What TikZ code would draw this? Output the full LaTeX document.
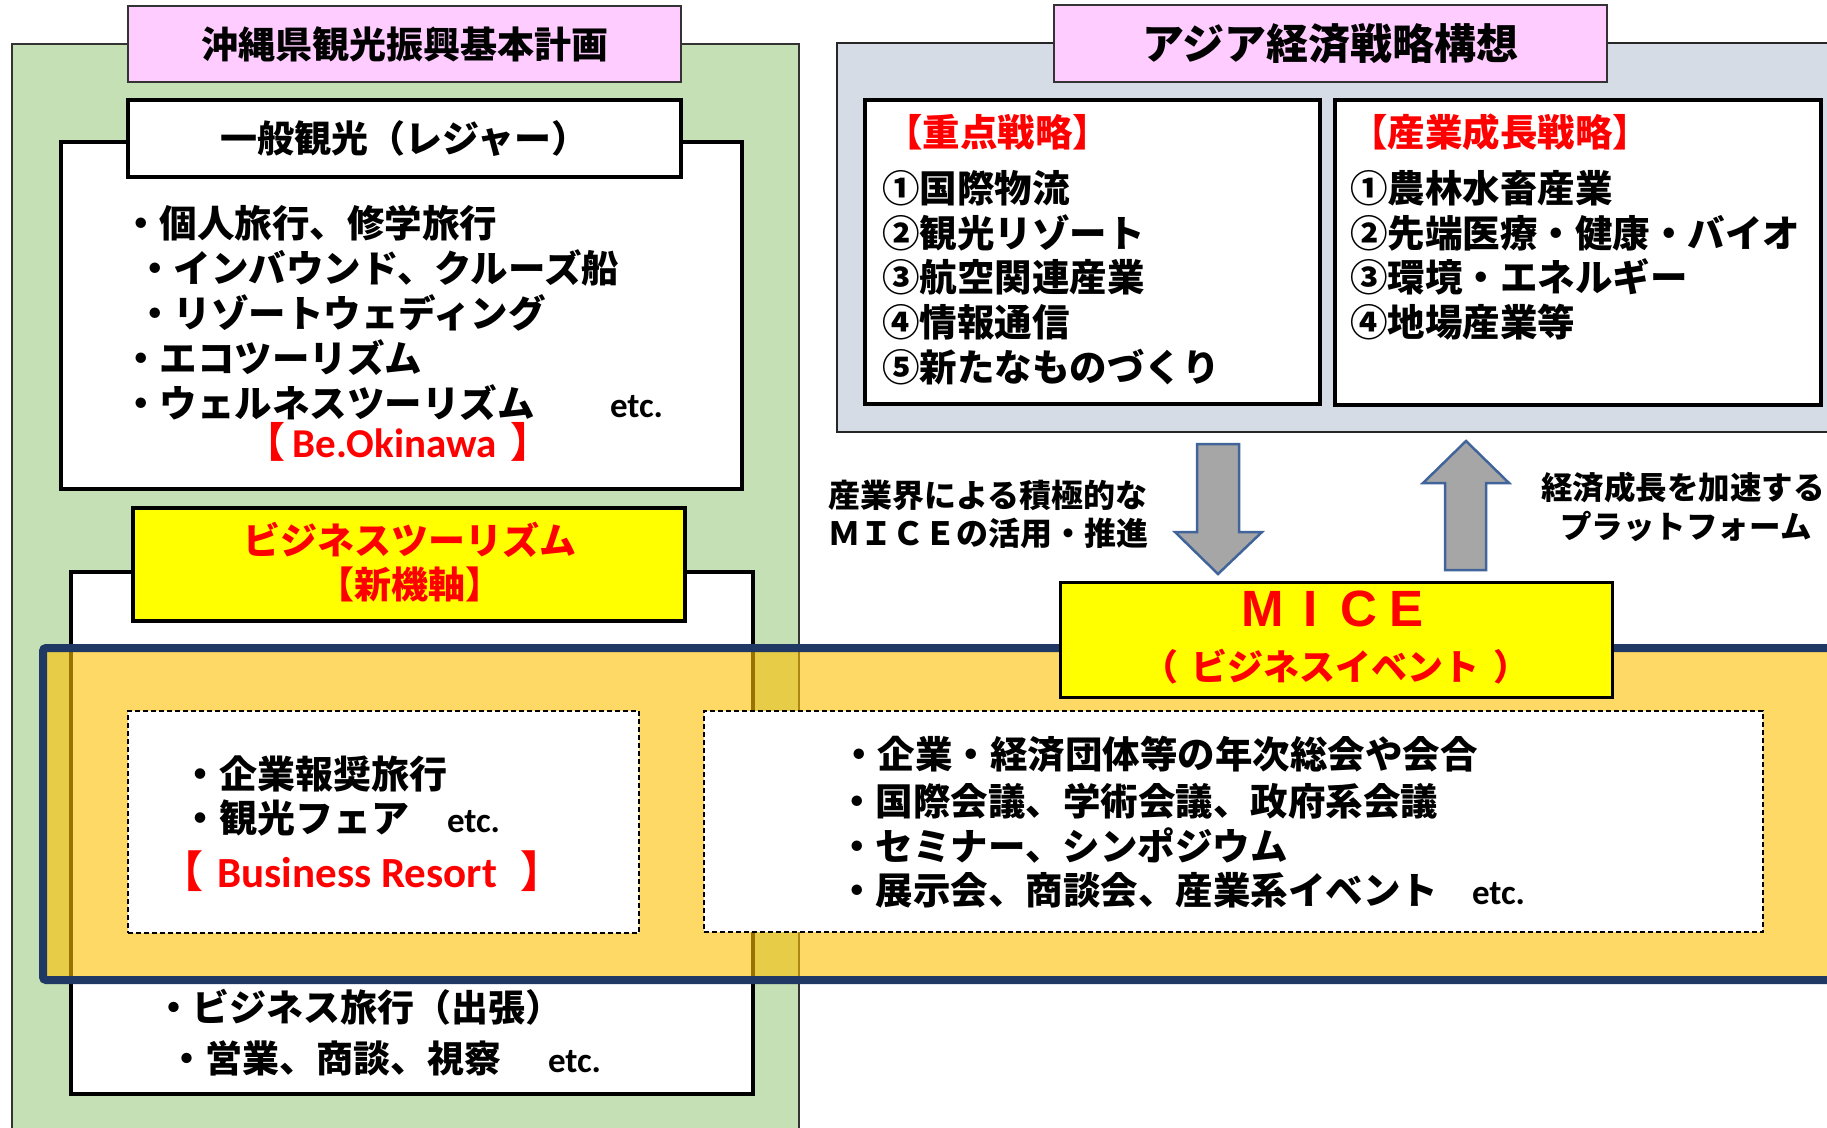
\documentclass[tikz,border=0pt]{standalone}
\usepackage{fontspec}
\newfontfamily\jp{Noto Sans CJK JP}
\newfontfamily\lat{Carlito}
\newfontfamily\las{Liberation Sans}
\definecolor{grn}{HTML}{C5E0B4}
\definecolor{pnk}{HTML}{FFCCFF}
\definecolor{gry}{HTML}{D6DCE5}
\definecolor{ylw}{HTML}{FFFF00}
\definecolor{org}{HTML}{FFC000}
\definecolor{navy}{HTML}{203864}
\definecolor{arrg}{HTML}{A6A6A6}
\definecolor{arrb}{HTML}{41659A}
\definecolor{rd}{HTML}{FF0000}
\newcommand\fsz[2]{\fontsize{#1pt}{#2pt}\selectfont}
\newcommand\fwbox[1]{\makebox[48pt]{#1}}
\begin{document}
\begin{tikzpicture}[x=1pt,y=-1pt,
  every node/.style={inner sep=0pt,outer sep=0pt},
  jt/.style={font=\jp\bfseries\fsz{#1}{45}},
  jt/.default=37.5,
  lt/.style={font=\lat\bfseries\fsz{#1}{40}},
  lt/.default=35,
  thickbox/.style={draw=black,line width=4pt,fill=white},
  titlebox/.style={draw=black!80,line width=2.5pt,fill=pnk},
  dashbox/.style={draw=black,line width=2pt,dash pattern=on 5pt off 3pt,fill=white},
  blockarrow/.style={draw=arrb,line width=2.5pt,fill=arrg,line join=miter},
  redtxt/.style={text=rd}]
\useasboundingbox (0,0) rectangle (1827,1127);
\fill[white] (0,0) rectangle (1827,1127);

% ---------- left: Okinawa plan ----------
\draw[draw=black!80,line width=2pt,fill=grn] (12,44) rectangle (799,1160);
\node[titlebox,minimum width=553,minimum height=76,jt=37] (tL) at (404.5,44) {沖縄県観光振興基本計画};
\node[thickbox,minimum width=681,minimum height=347] (leis) at (401.5,315.5) {};
\node[thickbox,minimum width=553,minimum height=77,jt=37] (leisH) at (404.5,138.5) {一般観光（レジャー）};
\node[jt,anchor=base west] (l1) at (122,237) {・個人旅行、修学旅行};
\node[jt,anchor=base west] (l2) at (136,282) {・インバウンド、クルーズ船};
\node[jt,anchor=base west] (l3) at (136,327) {・リゾートウェディング};
\node[jt,anchor=base west] (l4) at (122,372) {・エコツーリズム};
\node[jt,anchor=base west] (l5) at (122,417) {・ウェルネスツーリズム};
\node[lt,anchor=base west] (le) at (610,417) {etc.};
\node[anchor=base,redtxt] (beo) at (398,457) {\jp\bfseries\fsz{41}{45}【\,{\lat\bfseries Be.Okinawa}\,\,】};

\node[thickbox,minimum width=682,minimum height=522] (bus) at (412,833) {};
\node[draw=black,line width=4pt,fill=ylw,minimum width=552,minimum height=113] (busH) at (409,564.5) {};
\node[jt=37,anchor=base,redtxt] (bh1) at (410,554) {ビジネスツーリズム};
\node[jt=37,anchor=base,redtxt] (bh2) at (410,598) {【新機軸】};
\node[jt=37,anchor=base west] (b1) at (155,1021) {・ビジネス旅行（出張）};
\node[jt=37,anchor=base west] (b2) at (168,1072) {・営業、商談、視察};
\node[lt,anchor=base west] (be) at (548,1072) {etc.};

% ---------- right: Asia strategy ----------
\draw[draw=black!85,line width=2.5pt,fill=gry] (837,43) rectangle (1860,432);
\node[titlebox,minimum width=553,minimum height=77,jt=42] (tR) at (1330.5,43.5) {アジア経済戦略構想};
\node[thickbox,minimum width=455,minimum height=304] (bA) at (1092.5,252) {};
\node[thickbox,minimum width=486,minimum height=305] (bB) at (1578,252.5) {};
\node[jt,anchor=base west,redtxt] (aH) at (885,146) {【重点戦略】};
\node[jt,anchor=base west] (a1) at (882,202) {①国際物流};
\node[jt,anchor=base west] (a2) at (882,247) {②観光リゾート};
\node[jt,anchor=base west] (a3) at (882,291) {③航空関連産業};
\node[jt,anchor=base west] (a4) at (882,336) {④情報通信};
\node[jt,anchor=base west] (a5) at (882,381) {⑤新たなものづくり};
\node[jt,anchor=base west,redtxt] (cH) at (1350,146) {【産業成長戦略】};
\node[jt,anchor=base west] (c1) at (1350,202) {①農林水畜産業};
\node[jt,anchor=base west] (c2) at (1350,247) {②先端医療・健康・バイオ};
\node[jt,anchor=base west] (c3) at (1350,291) {③環境・エネルギー};
\node[jt,anchor=base west] (c4) at (1350,336) {④地場産業等};

% ---------- block arrows ----------
\draw[blockarrow] (1197,444) -- (1239,444) -- (1239,532) -- (1262,532) -- (1218,574) -- (1175,532) -- (1197,532) -- cycle;
\draw[blockarrow] (1445,570) -- (1486,570) -- (1486,483) -- (1509,483) -- (1466,441) -- (1423,483) -- (1445,483) -- cycle;
\node[jt=32,anchor=base west] (m1) at (828,507) {産業界による積極的な};
\node[jt=32,anchor=base west] (m2) at (828,545) {ＭＩＣＥの活用・推進};
\node[jt=31.5,anchor=base] (p1) at (1683,499) {経済成長を加速する};
\node[jt=31.5,anchor=base] (p2) at (1686,538) {プラットフォーム};

% ---------- MICE band ----------
\draw[fill=org,fill opacity=0.6,draw=navy,line width=8pt,rounded corners=3pt] (43,648) rectangle (1900,980);
\node[dashbox,minimum width=511,minimum height=222] (dL) at (383.5,822) {};
\node[dashbox,minimum width=1059,minimum height=221] (dR) at (1233.5,821.5) {};
\node[draw=black,line width=3pt,fill=ylw,minimum width=552,minimum height=115] (mice) at (1336,639.5) {};
\node[anchor=base west,redtxt,font=\las\bfseries\fsz{51}{51}] (miceT) at (1239,626) {\fwbox{M}\fwbox{I}\fwbox{C}\fwbox{E}};
\node[jt=36,anchor=base,redtxt] (miceS) at (1336,680) {（\hspace{14pt}ビジネスイベント\hspace{14pt}）};

\node[jt=38,anchor=base west] (d1) at (181,788) {・企業報奨旅行};
\node[jt=38,anchor=base west] (d2) at (181,832) {・観光フェア};
\node[lt,anchor=base west] (de) at (447,832) {etc.};
\node[anchor=base,redtxt] (bres) at (362,887) {\jp\bfseries\fsz{43}{45}【\,\,{\lat\bfseries Business Resort}\;\;】};

\node[jt,anchor=base west] (r1) at (840,768) {・企業・経済団体等の年次総会や会合};
\node[jt,anchor=base west] (r2) at (838,815) {・国際会議、学術会議、政府系会議};
\node[jt,anchor=base west] (r3) at (838,860) {・セミナー、シンポジウム};
\node[jt,anchor=base west] (r4) at (838,904) {・展示会、商談会、産業系イベント};
\node[lt,anchor=base west] (re) at (1472,904) {etc.};
\end{tikzpicture}
\end{document}
